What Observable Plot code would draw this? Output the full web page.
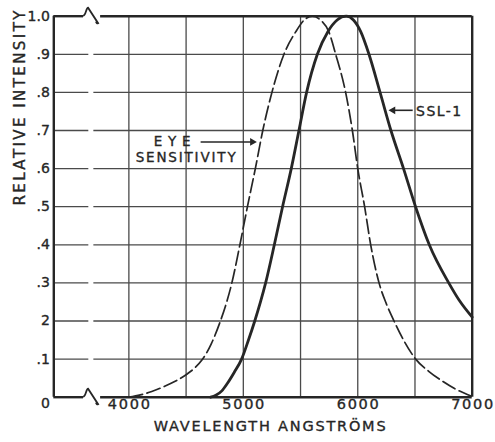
<!DOCTYPE html>
<html><head><meta charset="utf-8">
<script src="https://cdn.jsdelivr.net/npm/d3@7"></script>
<script src="https://cdn.jsdelivr.net/npm/@observablehq/plot@0.6"></script>
<style>body{margin:0;background:#fff} svg{display:block}</style>
</head><body><div id="chart"></div>
<script>
// Eye sensitivity (dashed)
const eyeWavelength = [4000,4100,4200,4300,4400,4500,4580,4640,4720,4800,4855,4900,4970,5036,5105,5170,5250,5355,5460,5532,5603,5674,5746,5807,5894,5953,6000,6060,6113,6186,6250,6317,6400,6506,6620,6725,6850,6990];
const eyeIntensity  = [0,0.006,0.015,0.027,0.041,0.059,0.078,0.098,0.14,0.2,0.25,0.3,0.4,0.5,0.6,0.7,0.8,0.9,0.96,0.99,1.0,0.99,0.96,0.9,0.8,0.7,0.6,0.5,0.4,0.3,0.245,0.2,0.15,0.1,0.068,0.045,0.022,0.003];
// SSL-1 (solid)
const sslWavelength = [4714,4760,4810,4860,4920,4985,5045,5100,5150,5195,5271,5343,5419,5486,5553,5647,5740,5820,5900,5962,6025,6098,6195,6290,6400,6505,6625,6795,6885,7000];
const sslIntensity  = [0,0.005,0.016,0.036,0.065,0.1,0.15,0.2,0.25,0.3,0.4,0.5,0.6,0.7,0.8,0.9,0.96,0.99,1.0,0.99,0.96,0.9,0.8,0.7,0.6,0.5,0.4,0.3,0.255,0.21];

const xTicks = [4000,5000,6000,7000];
const xGrid = [4000,4500,5000,5500,6000,6500];
const yGrid = [0.1,0.2,0.3,0.4,0.5,0.6,0.7,0.8,0.9];
const yTicks = [0.1,0.2,0.3,0.4,0.5,0.6,0.7,0.8,0.9,1.0];
const yTickLabels = [".1","2",".3",".4",".5",".6",".7",".8",".9","1.0"];
const xTitle = "WAVELENGTH ANGSTRÖMS";
const yTitle = "RELATIVE INTENSITY";

const eye = eyeWavelength.map((w,i)=>({w, v: eyeIntensity[i]}));
const ssl = sslWavelength.map((w,i)=>({w, v: sslIntensity[i]}));

const X0 = 3344, X1 = 7000;
const INK = "#262626", GRID = "#4a4a4a";
const font = "DejaVu Sans";
const txt = {fill: INK, stroke: INK, strokeWidth: 0.35};

const plot = Plot.plot({
  width: 495, height: 442,
  marginLeft: 53.3, marginRight: 23.3, marginTop: 15.7, marginBottom: 45.3,
  x: {domain: [X0, X1], axis: null},
  y: {domain: [0, 1], axis: null},
  style: {fontFamily: font, background: "#fff", color: INK},
  marks: [
    // grid
    Plot.ruleX(xGrid, {x: d=>d, y1: 0, y2: 1, stroke: GRID, strokeWidth: 1.3}),
    Plot.ruleY(yGrid, {y: d=>d, x1: X0, x2: 3650, stroke: GRID, strokeWidth: 1.3}),
    Plot.ruleY(yGrid, {y: d=>d, x1: 3694, x2: X1, stroke: GRID, strokeWidth: 1.3}),
    // frame
    Plot.ruleX([X0, X1], {x: d=>d, y1: 0, y2: 1, stroke: INK, strokeWidth: 2.4}),
    Plot.ruleY([0, 1], {y: d=>d, x1: X0, x2: 3604, stroke: INK, strokeWidth: 2.4}),
    Plot.ruleY([0, 1], {y: d=>d, x1: 3753, x2: X1, stroke: INK, strokeWidth: 2.4}),
    // curves
    Plot.line(eye, {x: "w", y: "v", curve: "monotone-x", stroke: INK, strokeWidth: 1.7, strokeDasharray: "14,4.5"}),
    Plot.line(ssl, {x: "w", y: "v", curve: "monotone-x", stroke: INK, strokeWidth: 2.8}),
    // tick labels
    Plot.text(yTicks, {frameAnchor: "left", y: d=>d, text: (d,i)=>yTickLabels[i], textAnchor: "end", dx: -4, fontSize: 14, ...txt}),
    Plot.text([0], {frameAnchor: "left", y: d=>d, text: d=>"0", textAnchor: "end", dx: -4, dy: 6, fontSize: 14, ...txt}),
    Plot.text(xTicks, {x: d=>d, frameAnchor: "bottom", dy: 11.5, text: d=>String(d), fontSize: 14.5, ...txt}),
    // axis titles
    Plot.text([xTitle], {x: 5230, frameAnchor: "bottom", dy: 33.5, text: d=>d, fontSize: 14.5, ...txt}),
    Plot.text([yTitle], {frameAnchor: "left", y: 0.503, dx: -34, rotate: -90, text: d=>d, fontSize: 15, ...txt}),
    // annotations
    Plot.text(["EYE"], {x: 4378, y: 0.671, text: d=>d, fontSize: 13.5, ...txt}),
    Plot.text(["SENSITIVITY"], {x: 4496, y: 0.629, text: d=>d, fontSize: 13.5, ...txt}),
    Plot.link([0], {x1: 4627, x2: 5070, y1: 0.670, y2: 0.670, stroke: INK, strokeWidth: 1.6}),
    Plot.dot([0], {x: 5079, y: 0.670, symbol: "triangle", r: 2.9, rotate: 90, fill: INK, stroke: "none"}),
    Plot.text(["SSL-1"], {x: 6510, y: 0.751, text: d=>d, textAnchor: "start", fontSize: 14, ...txt}),
    Plot.link([0], {x1: 6480, x2: 6300, y1: 0.753, y2: 0.753, stroke: INK, strokeWidth: 1.6}),
    Plot.dot([0], {x: 6308, y: 0.753, symbol: "triangle", r: 2.9, rotate: -90, fill: INK, stroke: "none"})
  ]
});

const lengths = {"WAVELENGTH ANGSTRÖMS": 232, "RELATIVE INTENSITY": 195, "EYE": 37, "SENSITIVITY": 100, "SSL-1": 45, "4000": 42, "5000": 42, "6000": 42, "7000": 42};
d3.select(plot).selectAll("text").each(function(){
  const t = this.textContent;
  if (lengths[t]) d3.select(this).attr("textLength", lengths[t]).attr("lengthAdjust", "spacing");
});

// axis-break squiggles on top and bottom frame lines
const sx = plot.scale("x"), sy = plot.scale("y");
const bx0 = sx.apply(3604), bx1 = sx.apply(3753);
const svg = d3.select(plot);
for (const v of [0, 1]) {
  const y = sy.apply(v);
  svg.append("path")
    .attr("d", `M${bx0},${y} C${bx0+3},${y} ${bx0+3},${y-8} ${bx0+5},${y-8} L${bx1-2},${y+7.5} C${bx1-3},${y+8} ${bx1-4},${y+7} ${bx1-4},${y+6}`)
    .attr("fill", "none").attr("stroke", INK).attr("stroke-width", 1.8);
}
document.getElementById("chart").append(plot);
</script>
</body></html>
